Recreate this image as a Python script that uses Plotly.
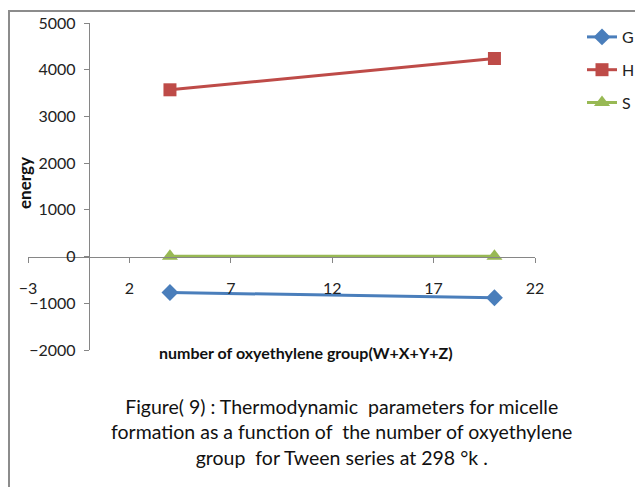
import plotly.graph_objects as go

x_vals = [4, 20]
G_vals = [-770, -880]
H_vals = [3570, 4240]
S_vals = [5, 5]
series_names = ["G", "H", "S"]
x_ticks = [-3, 2, 7, 12, 17, 22]
y_ticks = [-2000, -1000, 0, 1000, 2000, 3000, 4000, 5000]

xr = [-3, 22]
yr = [-2000, 5000]

FONT = "Lato"
fig = go.Figure()
styles = [
    dict(color="#4A7EBB", symbol="diamond", size=13),
    dict(color="#BE4B48", symbol="square", size=13),
    dict(color="#98B954", symbol="triangle-up", size=14),
]
for name, ys, st in zip(series_names, [G_vals, H_vals, S_vals], styles):
    fig.add_trace(go.Scatter(
        x=x_vals, y=ys, name=name, mode="lines+markers", legendgroup=name,
        line=dict(color=st["color"], width=3),
        marker=dict(color=st["color"], symbol=st["symbol"], size=st["size"]),
    ))

xpos = (0 - yr[0]) / (yr[1] - yr[0])
ypos = (0 - xr[0]) / (xr[1] - xr[0])

def px(x):
    return (x - 28) / 507

def py(y):
    return (350 - y) / 327

fig.update_layout(
    width=635, height=487,
    margin=dict(l=28, r=100, t=23, b=137, autoexpand=False),
    paper_bgcolor="white", plot_bgcolor="white",
    font=dict(family=FONT, size=16, color="#222"),
    showlegend=True,
    legend=dict(x=px(582), y=py(20), xanchor="left", yanchor="top",
                traceorder="grouped", tracegroupgap=9,
                font=dict(family=FONT, size=16, color="#222"),
                bgcolor="rgba(0,0,0,0)"),
    xaxis=dict(range=xr, tickvals=x_ticks, showgrid=False, zeroline=False,
               showline=True, linecolor="#868686", linewidth=1,
               ticks="outside", ticklen=5, tickcolor="#868686",
               anchor="free", position=xpos, ticklabelstandoff=12,
               tickfont=dict(family=FONT, size=16, color="#222")),
    yaxis=dict(range=yr, tickvals=y_ticks, showgrid=False, zeroline=False,
               showline=True, linecolor="#868686", linewidth=1,
               ticks="outside", ticklen=5, tickcolor="#868686",
               anchor="free", position=ypos, ticklabelstandoff=5,
               tickfont=dict(family=FONT, size=16, color="#222")),
    shapes=[dict(type="rect", xref="paper", yref="paper",
                 x0=px(9), x1=1.25, y0=-0.45, y1=py(11),
                 line=dict(color="#8c8c8c", width=2), fillcolor="rgba(0,0,0,0)")],
    annotations=[
        dict(text="<b>energy</b>", textangle=-90, xref="paper", yref="paper",
             x=px(24), y=py(183), xanchor="center", yanchor="middle", showarrow=False,
             font=dict(family=FONT, size=17, color="#111")),
        dict(text="<b>number of oxyethylene group(W+X+Y+Z)</b>", xref="paper", yref="paper",
             x=px(306), y=py(352), xanchor="center", yanchor="middle", showarrow=False,
             font=dict(family=FONT, size=16, color="#111")),
        dict(text="Figure( 9) : Thermodynamic  parameters for micelle<br>"
                  "formation as a function of  the number of oxyethylene<br>"
                  "group  for Tween series at 298 °k .",
             xref="paper", yref="paper", x=px(341), y=py(432),
             xanchor="center", yanchor="middle",
             showarrow=False, align="center",
             font=dict(family=FONT, size=19.5, color="#111")),
    ],
)

fig.write_html("out.html")
